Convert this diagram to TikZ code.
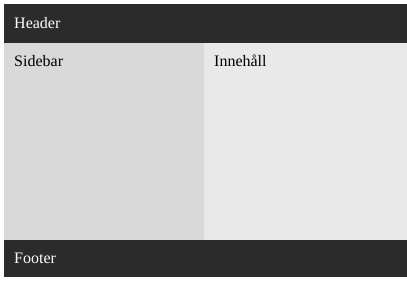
\documentclass[tikz,border=0pt]{standalone}
\usepackage{fontspec}
\setmainfont{Liberation Serif}
\definecolor{bardark}{HTML}{2B2B2B}
\definecolor{sidegray}{HTML}{D9D9D9}
\definecolor{maingray}{HTML}{E9E9E9}
\begin{document}
\begin{tikzpicture}[x=1pt,y=-1pt,
  region/.style={draw=none,inner sep=0pt},
  label/.style={anchor=base west,inner sep=0pt,font=\fontsize{16}{19}\selectfont}]
\useasboundingbox[fill=white] (0,0) rectangle (407,283);
% page regions
\fill[bardark] (4,4) rectangle (407,43);
\fill[sidegray] (4,43) rectangle (204,240);
\fill[maingray] (204,43) rectangle (407,240);
\fill[bardark] (4,240) rectangle (407,277);
% labels
\node[label,text=white] (header) at (14,29) {Header};
\node[label] (sidebar) at (14,67) {Sidebar};
\node[label] (content) at (214,67) {Innehåll};
\node[label,text=white] (footer) at (14,264) {Footer};
\end{tikzpicture}
\end{document}
